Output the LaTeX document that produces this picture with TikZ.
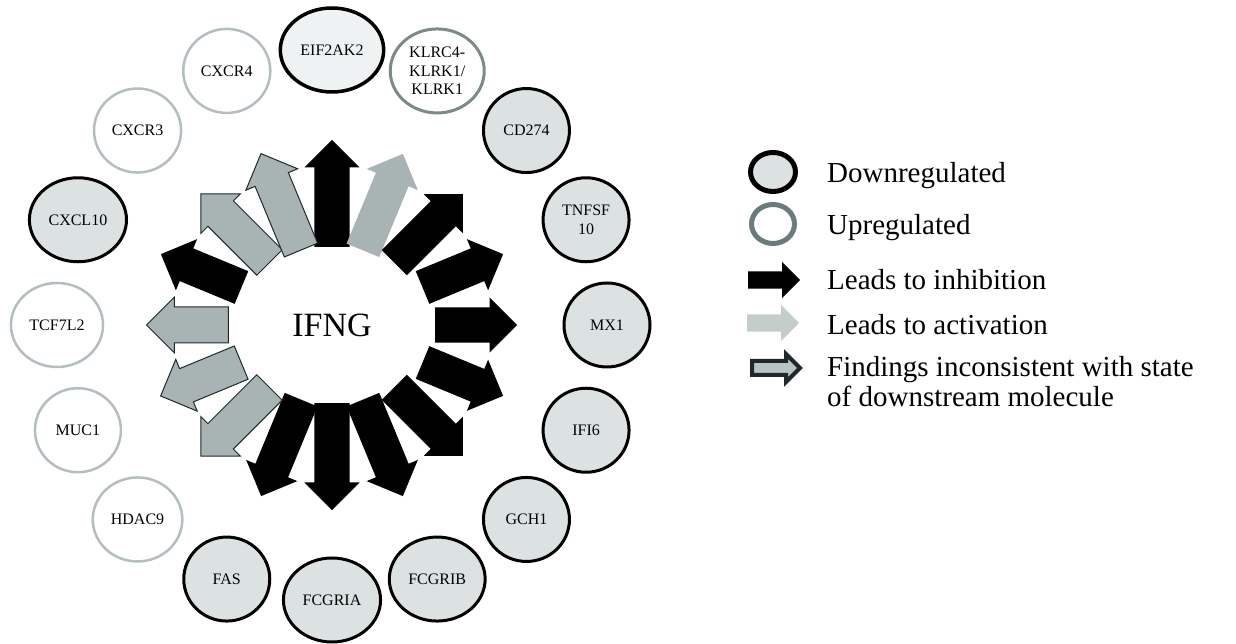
\documentclass[tikz,border=0pt]{standalone}
\usepackage{fontspec}
\setmainfont{Liberation Serif}
\usetikzlibrary{shapes.geometric,shapes.arrows}
\definecolor{downfill}{HTML}{DCE2E2}
\definecolor{palefill}{HTML}{EEF2F2}
\definecolor{upline}{HTML}{7D8A8A}
\definecolor{legendup}{HTML}{6B7B7B}
\definecolor{lightline}{HTML}{B4BEBE}
\definecolor{arrowgray}{HTML}{A8B4B4}
\definecolor{legendact}{HTML}{C4CCCC}
\definecolor{darkline}{HTML}{1E2A2A}
\definecolor{legendfill}{HTML}{B8C4C4}
\begin{document}
\begin{tikzpicture}[x=1pt, y=1pt]
    \tikzstyle{down} = [ellipse, draw=black, line width=3pt, fill=downfill, minimum width=86pt, minimum height=84pt, inner sep=5pt, align=center, font=\fontsize{16}{19}\selectfont]
    \tikzstyle{up} = [down, draw=upline, fill=white]
    \tikzstyle{uplight} = [down, draw=lightline, line width=2.5pt, fill=white]
    \tikzstyle{inhib} = [single arrow, anchor=tail, fill=black, inner xsep=0pt, inner ysep=17.5pt, single arrow head extend=10pt]
    \tikzstyle{activ} = [inhib, fill=arrowgray]
    \tikzstyle{incons} = [inhib, fill=arrowgray, draw=darkline, line width=1pt]
    \tikzstyle{keyarrow} = [single arrow, anchor=tail, fill=black, inner xsep=0pt, inner ysep=8.5pt, single arrow head extend=9.5pt, minimum height=52pt]
    \tikzstyle{legendtext} = [anchor=base west, inner sep=0pt, align=left, font=\fontsize{29}{30}\selectfont]
    \useasboundingbox (-332, -319) rectangle (904, 325);
    % centre
    \node[font=\fontsize{34}{34}\selectfont] (ifng) at (0, 0) {IFNG};
    % arrows, tails on an ellipse round IFNG, tips at radius 185
    \node[inhib, minimum height=107pt, rotate=90] (a90) at (90:78) {};
    \node[activ, minimum height=104.4pt, rotate=67.5] (a67) at (67.5:80.6) {};
    \node[inhib, minimum height=97.1pt, rotate=45] (a45) at (45:87.9) {};
    \node[inhib, minimum height=87.2pt, rotate=22.5] (a22) at (22.5:97.8) {};
    \node[inhib, minimum height=82pt, rotate=0] (a0) at (0:103) {};
    \node[inhib, minimum height=87.2pt, rotate=-22.5] (am22) at (-22.5:97.8) {};
    \node[inhib, minimum height=97.1pt, rotate=-45] (am45) at (-45:87.9) {};
    \node[inhib, minimum height=104.4pt, rotate=-67.5] (am67) at (-67.5:80.6) {};
    \node[inhib, minimum height=107pt, rotate=-90] (am90) at (-90:78) {};
    \node[inhib, minimum height=104.4pt, rotate=-112.5] (am112) at (-112.5:80.6) {};
    \node[incons, minimum height=97.1pt, rotate=-135] (am135) at (-135:87.9) {};
    \node[incons, minimum height=87.2pt, rotate=-157.5] (am157) at (-157.5:97.8) {};
    \node[incons, minimum height=82pt, rotate=180] (a180) at (180:103) {};
    \node[inhib, minimum height=87.2pt, rotate=157.5] (a157) at (157.5:97.8) {};
    \node[incons, minimum height=97.1pt, rotate=135] (a135) at (135:87.9) {};
    \node[incons, minimum height=104.4pt, rotate=112.5] (a112) at (112.5:80.6) {};
    % molecules
    \node[down, fill=palefill, line width=3.5pt] (eif) at (90:275) {EIF2AK2};
    \node[up, inner sep=0pt, minimum width=94pt, font=\fontsize{16}{18.5}\selectfont] (klrc) at (67.5:275) {KLRC4-\\KLRK1/\\KLRK1};
    \node[down] (cd) at (45:275) {CD274};
    \node[down, inner sep=2pt] (tnf) at (22.5:275) {TNFSF\\10};
    \node[down] (mx) at (0:275) {MX1};
    \node[down] (ifi) at (-22.5:275) {IFI6};
    \node[down] (gch) at (-45:275) {GCH1};
    \node[down] (fcgrib) at (-67.5:275) {FCGRIB};
    \node[down] (fcgria) at (-90:275) {FCGRIA};
    \node[down] (fas) at (-112.5:275) {FAS};
    \node[uplight] (hdac) at (-135:275) {HDAC9};
    \node[uplight] (muc) at (-157.5:275) {MUC1};
    \node[uplight] (tcf) at (180:275) {TCF7L2};
    \node[down] (cxcl) at (157.5:275) {CXCL10};
    \node[uplight] (cxcr3) at (135:275) {CXCR3};
    \node[uplight] (cxcr4) at (112.5:275) {CXCR4};
    % legend
    \node[ellipse, draw=black, line width=5pt, fill=downfill, minimum width=45pt, minimum height=39pt, inner sep=0pt] (keydown) at (441, 153) {};
    \node[ellipse, draw=legendup, line width=5pt, fill=white, minimum width=43pt, minimum height=39pt, inner sep=0pt] (keyup) at (441, 101) {};
    \node[keyarrow] (keyinhib) at (416, 45) {};
    \node[keyarrow, fill=legendact] (keyact) at (415, 2) {};
    \node[keyarrow, fill=legendfill, draw=darkline, line width=4pt, minimum height=48pt, inner ysep=5pt, single arrow head extend=7pt] (keyincons) at (418, -43) {};
    \node[legendtext] (tdown) at (495, 142) {Downregulated};
    \node[legendtext] (tup) at (495, 90) {Upregulated};
    \node[legendtext] (tinhib) at (495, 35) {Leads to inhibition};
    \node[legendtext] (tact) at (495, -10) {Leads to activation};
    \node[legendtext] (tincons) at (495, -82) {Findings inconsistent with state\\of downstream molecule};
\end{tikzpicture}
\end{document}
